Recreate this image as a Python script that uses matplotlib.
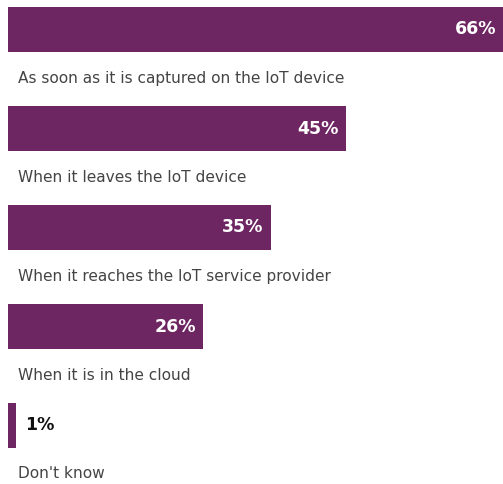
import matplotlib
matplotlib.use("Agg")
import matplotlib.pyplot as plt

categories = [
    "As soon as it is captured on the IoT device",
    "When it leaves the IoT device",
    "When it reaches the IoT service provider",
    "When it is in the cloud",
    "Don't know",
]
values = [66, 45, 35, 26, 1]
value_labels = ["66%", "45%", "35%", "26%", "1%"]

W, H = 503, 484
fig = plt.figure(figsize=(W / 100, H / 100), dpi=100)
left_px = 8
ax = fig.add_axes([left_px / W, 0, 1 - left_px / W, 1])
ax.set_xlim(0, 66)
ax.set_ylim(H, 0)
ax.axis("off")

bar_color = "#6e2662"
pitch = 99
top0 = 7
bar_h = 45
px_per_unit = (W - left_px) / 66

for i, (cat, v, lab) in enumerate(zip(categories, values, value_labels)):
    top = top0 + i * pitch
    ax.barh(top + bar_h / 2, v, height=bar_h, left=0, color=bar_color)
    yc = top + bar_h / 2
    if v * px_per_unit > 60:
        ax.text(v - 7 / px_per_unit, yc, lab, ha="right", va="center",
                color="white", fontsize=12.5, fontweight="bold", family="DejaVu Sans")
    else:
        ax.text(v + 10 / px_per_unit, yc, lab, ha="left", va="center",
                color="#111111", fontsize=12.5, fontweight="bold", family="DejaVu Sans")
    ax.text(10 / px_per_unit, top + bar_h + 26, cat, ha="left", va="center",
            color="#444444", fontsize=11.1, family="DejaVu Sans")

fig.savefig("out.png", dpi=100)
